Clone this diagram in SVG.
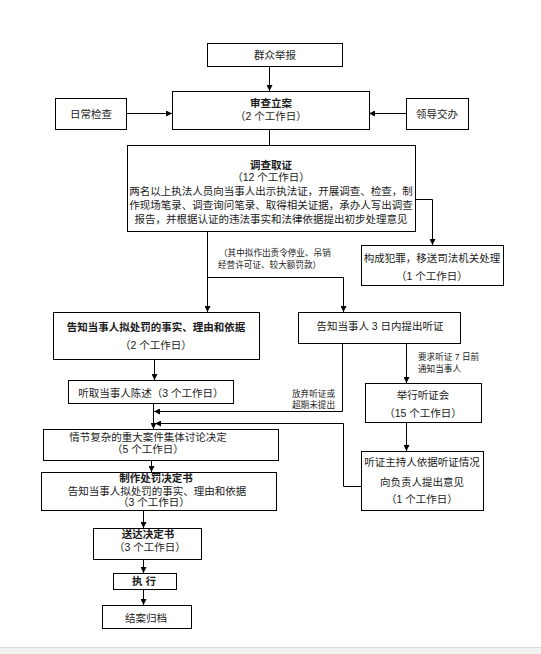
<svg xmlns="http://www.w3.org/2000/svg" width="541" height="654" viewBox="0 0 541 654">
<defs>
<marker id="ah" viewBox="0 0 6 6" refX="6" refY="3" markerWidth="6" markerHeight="6" markerUnits="userSpaceOnUse" orient="auto">
<path d="M0,0 L6,3 L0,6 z" fill="#000"/>
</marker>
<style>
.box{fill:#fff;stroke:#000;stroke-width:1}
.t{font-family:"Liberation Sans","Noto Sans CJK SC",sans-serif;font-size:10.5px;fill:#1a1a1a;text-anchor:middle;dominant-baseline:central}
.b{font-weight:bold}
.s{font-family:"Liberation Sans","Noto Sans CJK SC",sans-serif;font-size:8.6px;fill:#1a1a1a;dominant-baseline:central}
.c{fill:none;stroke:#000;stroke-width:1}
.a{marker-end:url(#ah)}
</style>
</defs>
<rect x="0" y="0" width="541" height="654" fill="#fff"/>
<rect x="0" y="648" width="541" height="6" fill="#f2f2f2"/>
<line x1="0" y1="647.5" x2="541" y2="647.5" stroke="#d9d9d9"/>

<g id="connectors">
<path class="c a" d="M269.5,67 V91"/>
<path class="c a" d="M126,113.5 H172"/>
<path class="c a" d="M406,113.5 H369"/>
<path class="c" d="M269.5,129 V145"/>
<path class="c a" d="M415,199.5 H432.5 V245"/>
<path class="c a" d="M207.5,231 V312"/>
<path class="c a" d="M207.5,277.5 H343.5 V312"/>
<path class="c a" d="M154.5,359 V380"/>
<path class="c a" d="M153.5,404 V429"/>
<path class="c a" d="M406.5,343 V383"/>
<path class="c a" d="M342.5,343 V411.5 H154"/>
<path class="c a" d="M406.5,422 V451"/>
<path class="c a" d="M361,486.5 H343.5 V423.5 H155"/>
<path class="c a" d="M151.5,460 V472"/>
<path class="c a" d="M143.5,510 V528"/>
<path class="c a" d="M143.5,559 V573"/>
<path class="c a" d="M143.5,589 V605"/>
</g>

<g id="n-qunzhong">
<rect class="box" x="207.5" y="43.5" width="135" height="23"/>
<text class="t" x="275" y="55">群众举报</text>
</g>
<g id="n-richang">
<rect class="box" x="55.5" y="98.5" width="71" height="31"/>
<text class="t" x="91" y="114">日常检查</text>
</g>
<g id="n-shencha">
<rect class="box" x="172.5" y="91.5" width="197" height="38"/>
<text class="t b" x="271" y="103">审查立案</text>
<text class="t" x="271" y="116">（2 个工作日）</text>
</g>
<g id="n-lingdao">
<rect class="box" x="406.5" y="98.5" width="62" height="31"/>
<text class="t" x="437" y="114">领导交办</text>
</g>
<g id="n-diaocha">
<rect class="box" x="127.5" y="145.5" width="288" height="86"/>
<text class="t b" x="271" y="165">调查取证</text>
<text class="t" x="271" y="177">（12 个工作日）</text>
<text class="t" x="271" y="191">两名以上执法人员向当事人出示执法证，开展调查、检查，制</text>
<text class="t" x="271" y="204.5">作现场笔录、调查询问笔录、取得相关证据，承办人写出调查</text>
<text class="t" x="271" y="219">报告，并根据认证的违法事实和法律依据提出初步处理意见</text>
</g>
<g id="n-fanzui">
<rect class="box" x="361.5" y="245.5" width="142" height="40"/>
<text class="t" x="432" y="258">构成犯罪，移送司法机关处理</text>
<text class="t" x="432" y="276">（1 个工作日）</text>
</g>
<g id="n-gaozhi">
<rect class="box" x="53.5" y="312.5" width="206" height="47"/>
<text class="t b" x="156" y="327">告知当事人拟处罚的事实、理由和依据</text>
<text class="t" x="156" y="345">（2 个工作日）</text>
</g>
<g id="n-tingzheng">
<rect class="box" x="298.5" y="312.5" width="162" height="31"/>
<text class="t" x="380" y="326">告知当事人 3 日内提出听证</text>
</g>
<g id="n-tingqu">
<rect class="box" x="68.5" y="380.5" width="165" height="23"/>
<text class="t" x="151" y="393">听取当事人陈述（3 个工作日）</text>
</g>
<g id="n-juxing">
<rect class="box" x="365.5" y="383.5" width="116" height="39"/>
<text class="t" x="423" y="395">举行听证会</text>
<text class="t" x="423" y="413">（15 个工作日）</text>
</g>
<g id="n-zhuchi">
<rect class="box" x="361.5" y="451.5" width="122" height="59"/>
<text class="t" x="422" y="462">听证主持人依据听证情况</text>
<text class="t" x="422" y="482">向负责人提出意见</text>
<text class="t" x="422" y="499">（1 个工作日）</text>
</g>
<g id="n-qingjie">
<rect class="box" x="43.5" y="429.5" width="235" height="31"/>
<text class="t" x="148" y="436.5">情节复杂的重大案件集体讨论决定</text>
<text class="t" x="148" y="449">（5 个工作日）</text>
</g>
<g id="n-zhizuo">
<rect class="box" x="41.5" y="472.5" width="235" height="38"/>
<text class="t b" x="156" y="478">制作处罚决定书</text>
<text class="t" x="157" y="491">告知当事人拟处罚的事实、理由和依据</text>
<text class="t" x="154" y="501.5">（3 个工作日）</text>
</g>
<g id="n-songda">
<rect class="box" x="93.5" y="528.5" width="108" height="31"/>
<text class="t b" x="148" y="534">送达决定书</text>
<text class="t" x="150" y="547">（3 个工作日）</text>
</g>
<g id="n-zhixing">
<rect class="box" x="113.5" y="573.5" width="63" height="16"/>
<text class="t b" x="144" y="581">执 行</text>
</g>
<g id="n-jiean">
<rect class="box" x="102.5" y="605.5" width="89" height="23"/>
<text class="t" x="146" y="618">结案归档</text>
</g>

<g id="labels">
<text class="s" x="219" y="253">（其中拟作出责令停业、吊销</text>
<text class="s" x="218" y="265">经营许可证、较大额罚款）</text>
<text class="s" x="418" y="357">要求听证 7 日前</text>
<text class="s" x="418" y="369">通知当事人</text>
<text class="s" x="292" y="394">放弃听证或</text>
<text class="s" x="292" y="405">超期未提出</text>
</g>
</svg>
